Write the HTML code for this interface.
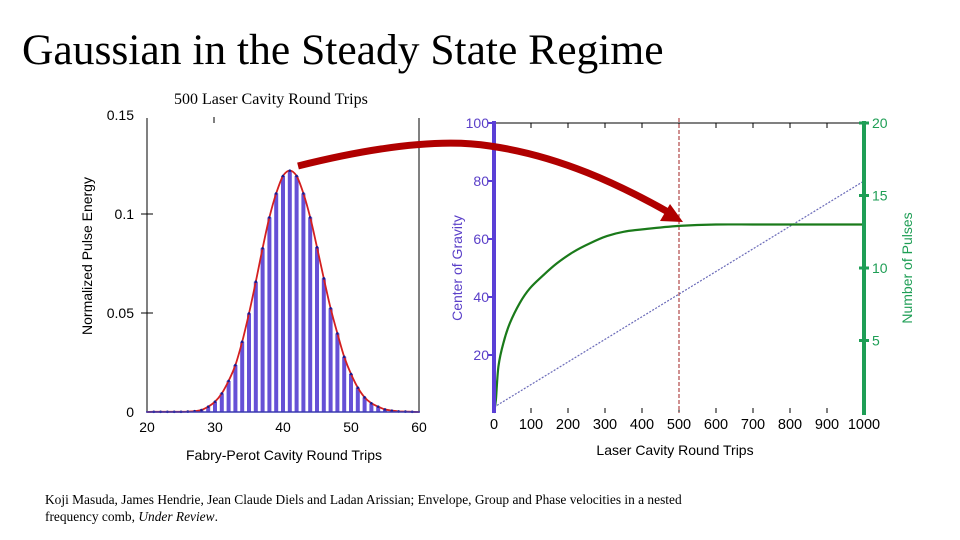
<!DOCTYPE html>
<html><head><meta charset="utf-8"><style>
body{margin:0;background:#fff;width:960px;height:540px;overflow:hidden}
svg{display:block}
text{font-family:"Liberation Sans","DejaVu Sans",sans-serif}
.serif{font-family:"Liberation Serif",serif}
</style></head><body>
<svg id="s" width="960" height="540" viewBox="0 0 960 540">
<text class="serif" x="22" y="64" font-size="43.5" fill="#000">Gaussian in the Steady State Regime</text>
<text class="serif" x="174" y="104" font-size="16" fill="#000">500 Laser Cavity Round Trips</text>
<g id="left">
<line x1="147" y1="118" x2="147" y2="412" stroke="#000" stroke-width="1"/>
<line x1="419" y1="118" x2="419" y2="412" stroke="#000" stroke-width="1"/>
<line x1="214" y1="117" x2="214" y2="123" stroke="#000"/>
<text x="92" y="256" font-size="14" fill="#000" transform="rotate(-90 92 256)" text-anchor="middle">Normalized Pulse Energy</text>
<text x="284" y="460" font-size="14" fill="#000" text-anchor="middle">Fabry-Perot Cavity Round Trips</text>
</g>
<g id="right">
<line x1="494" y1="123" x2="864" y2="123" stroke="#000" stroke-width="1"/>
<text x="462" y="268" font-size="14" fill="#5a3fc8" transform="rotate(-90 462 268)" text-anchor="middle">Center of Gravity</text>
<text x="912" y="268" font-size="14" fill="#1e9e55" transform="rotate(-90 912 268)" text-anchor="middle">Number of Pulses</text>
<text x="675" y="455" font-size="14" fill="#000" text-anchor="middle">Laser Cavity Round Trips</text>
</g>
<text class="serif" x="45" y="504" font-size="13.4" fill="#000">Koji Masuda, James Hendrie, Jean Claude Diels and Ladan Arissian; Envelope, Group and Phase velocities in a nested</text>
<text class="serif" x="45" y="521" font-size="13.4" fill="#000">frequency comb, <tspan font-style="italic">Under Review</tspan>.</text>
</svg>
<script>
// Left chart data
const barX=[21,22,23,24,25,26,27,28,29,30,31,32,33,34,35,36,37,38,39,40,41,42,43,44,45,46,47,48,49,50,51,52,53,54,55,56,57,58,59];
const barY=[0.0001,0.0001,0.0001,0.0001,0.0001,0.0002,0.0004,0.0010,0.0027,0.0052,0.0094,0.0157,0.0237,0.0355,0.0498,0.0658,0.0827,0.0983,0.1104,0.1192,0.1219,0.1192,0.1104,0.0983,0.0832,0.0675,0.0524,0.0397,0.0279,0.0192,0.0123,0.0074,0.0044,0.0027,0.0013,0.0007,0.0003,0.0002,0.0001];
const leftXTicks=[20,30,40,50,60];
const leftYTicks=[0,0.05,0.1,0.15];
const leftYLabels=["0","0.05","0.1","0.15"];
// Right chart data
const rtX=[0,5,12,25,43,70,97,133,169,214,259,305,350,413,500,600,700,800,900,1000];
const pulses=[0,0.9,3.2,4.8,6.2,7.6,8.6,9.5,10.3,11.1,11.7,12.2,12.5,12.7,12.9,13,13,13,13,13];
const cogX=[0,250,500,750,1000];
const cogY=[2,21.5,41,60.5,80];
const rightXTicks=[0,100,200,300,400,500,600,700,800,900,1000];
const cogTicks=[20,40,60,80,100];
const pulseTicks=[5,10,15,20];
const markerX=500;

const NS="http://www.w3.org/2000/svg";
const svg=document.getElementById('s');
const L=document.getElementById('left'), R=document.getElementById('right');
function mk(tag,attrs,parent){const e=document.createElementNS(NS,tag);for(const k in attrs)e.setAttribute(k,attrs[k]);(parent||svg).appendChild(e);return e;}
const lx=v=>147+(v-20)*(272/40);
const ly=v=>412-v*(297/0.15);
const rx=v=>494+v*0.37;
const ry=v=>413-v*2.9;
const py=v=>413-v*14.5;
function smooth(pts){
 let d='M'+pts[0][0].toFixed(1)+','+pts[0][1].toFixed(1);
 for(let i=0;i<pts.length-1;i++){
  const p0=pts[i-1]||pts[i],p1=pts[i],p2=pts[i+1],p3=pts[i+2]||p2;
  const c1=[p1[0]+(p2[0]-p0[0])/6,p1[1]+(p2[1]-p0[1])/6];
  const c2=[p2[0]-(p3[0]-p1[0])/6,p2[1]-(p3[1]-p1[1])/6];
  d+=' C'+c1[0].toFixed(1)+','+c1[1].toFixed(1)+' '+c2[0].toFixed(1)+','+c2[1].toFixed(1)+' '+p2[0].toFixed(1)+','+p2[1].toFixed(1);
 }
 return d;
}

barX.forEach((x,i)=>{
 const r=mk('rect',{x:lx(x)-2,y:ly(barY[i]),width:4,height:412-ly(barY[i]),fill:'#6650d6'},L);
 
 
});
const fitPts=[[lx(20),ly(0)]].concat(barX.map((x,i)=>[lx(x),ly(barY[i])])).concat([[lx(60),ly(0)]]);
const fit=mk('path',{d:smooth(fitPts),fill:'none',stroke:'#d42020','stroke-width':1.8},L);


barX.forEach((x,i)=>{
 const c=mk('circle',{cx:lx(x),cy:ly(barY[i]),r:1.3,fill:'#1a1a8a'},L);
 
 
});
const lb=mk('line',{x1:146,y1:412,x2:420,y2:412,stroke:'#3a3ab0','stroke-width':1.5},L);


leftXTicks.forEach(t=>{
 const e=mk('text',{x:lx(t),y:432,'font-size':14,'text-anchor':'middle',fill:'#000'},L);e.textContent=t;
 
 
});
leftYTicks.forEach((t,i)=>{
 const e=mk('text',{x:134,y:ly(t)+5,'font-size':14,'text-anchor':'end',fill:'#000'},L);e.textContent=leftYLabels[i];
 
 
 if(t>0&&t<0.15){const l=mk('line',{x1:141,y1:ly(t),x2:153,y2:ly(t),stroke:'#000'},L);
 
 }
});

rightXTicks.forEach(t=>{
 const a=mk('line',{x1:rx(t),y1:123,x2:rx(t),y2:128,stroke:'#000'},R);
 
 
 const b=mk('line',{x1:rx(t),y1:408,x2:rx(t),y2:413,stroke:'#000'},R);
 
 
 const e=mk('text',{x:rx(t),y:429,'font-size':14.5,'text-anchor':'middle',fill:'#000'},R);e.textContent=t;
 
 
});
const vl=mk('line',{x1:rx(markerX),y1:118,x2:rx(markerX),y2:413,stroke:'#a02020','stroke-width':1,'stroke-dasharray':'4,2'},R);


const cog=mk('path',{d:cogX.map((x,i)=>(i?'L':'M')+rx(x)+','+ry(cogY[i])).join(' '),fill:'none',stroke:'#6a6ab8','stroke-width':1.2,'stroke-dasharray':'2,1.5'},R);


const gp=mk('path',{d:smooth(rtX.map((x,i)=>[rx(x),py(pulses[i])])),fill:'none',stroke:'#1a7a1a','stroke-width':2.2},R);


const la=mk('line',{x1:494,y1:121,x2:494,y2:413,stroke:'#5a3fd6','stroke-width':4},R);


cogTicks.forEach(t=>{
 const l=mk('line',{x1:488,y1:ry(t),x2:494,y2:ry(t),stroke:'#5a3fd6','stroke-width':2},R);
 
 
 const e=mk('text',{x:489,y:ry(t)+5,'font-size':14,'text-anchor':'end',fill:'#5a3fc8'},R);e.textContent=t;
 
 
});
const ra=mk('line',{x1:864,y1:121,x2:864,y2:415,stroke:'#1e9e55','stroke-width':4},R);


pulseTicks.forEach(t=>{
 const l=mk('line',{x1:859,y1:py(t),x2:869,y2:py(t),stroke:'#1e9e55','stroke-width':3},R);
 
 
 const e=mk('text',{x:872,y:py(t)+5,'font-size':14,fill:'#1e9e55'},R);e.textContent=t;
 
 
});
const arr=mk('path',{d:'M298,166 C370,148 440,138 490,146 C560,156 620,185 668,212',fill:'none',stroke:'#b00000','stroke-width':7},svg);


const ah=mk('polygon',{points:'683,222 660,221 670,204',fill:'#b00000'},svg);


</script>
</body></html>
